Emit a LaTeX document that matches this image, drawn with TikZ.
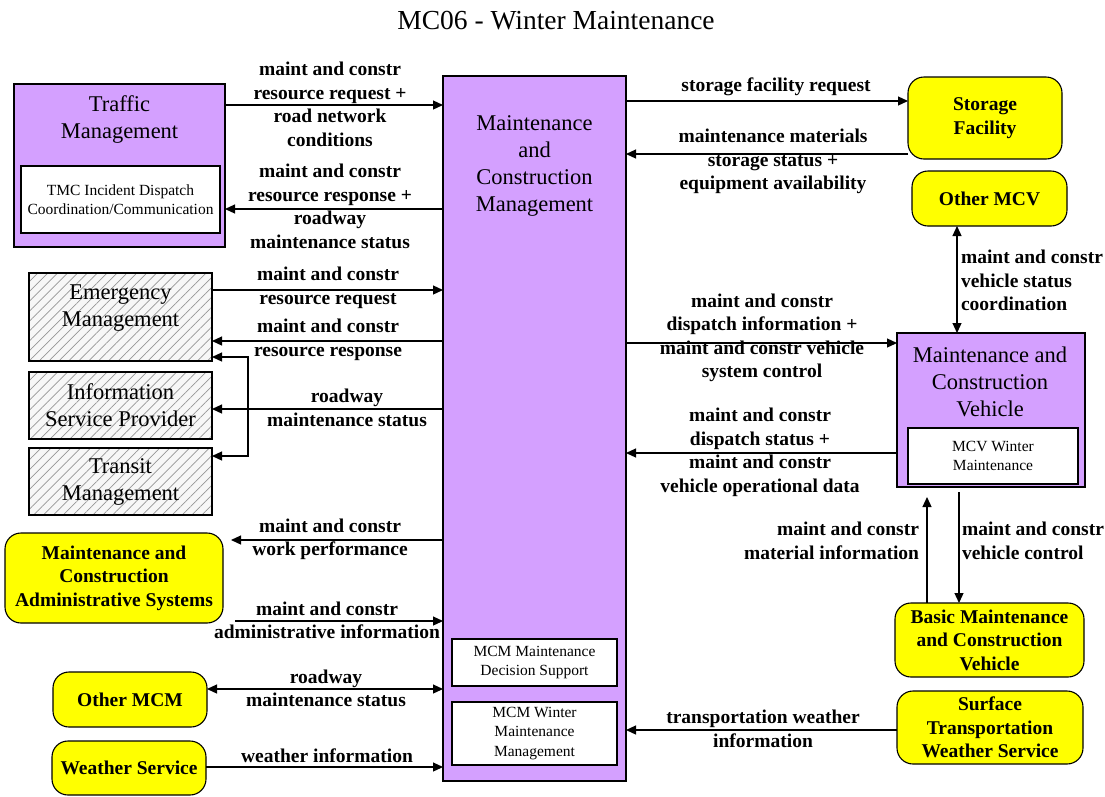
\documentclass[tikz,border=0pt]{standalone}
\usepackage{fontspec}
\setmainfont{Liberation Serif}
\usetikzlibrary{arrows.meta,patterns.meta}
\definecolor{mcpurple}{RGB}{212,160,255}
\definecolor{mcyellow}{RGB}{255,255,0}
\definecolor{hatchgray}{RGB}{150,150,150}
\newcommand\lblfont{\fontsize{19.5}{23.5}\selectfont\bfseries}
\newcommand\ttlfont{\fontsize{22.5}{27}\selectfont}
\newcommand\smlfont{\fontsize{15.5}{19.5}\selectfont}

\begin{document}
\begin{tikzpicture}[x=1pt,y=-1pt,
  every node/.style={inner sep=0pt, outer sep=0pt},
  pbox/.style={draw, line width=1.3pt, fill=mcpurple},
  wbox/.style={draw, line width=1.1pt, fill=white, align=center, font=\smlfont},
  hbox/.style={draw, line width=1.1pt, preaction={fill=gray!6},
    pattern={Lines[angle=45,distance=7pt,line width=0.7pt]}, pattern color=hatchgray,
    align=center, font=\ttlfont},
  ybox/.style={draw, line width=1.1pt, fill=mcyellow, rounded corners=16pt,
    align=center, font=\lblfont},
  ttl/.style={align=center, font=\ttlfont},
  lbl/.style={align=center, font=\lblfont},
  flow/.style={line width=1.2pt, -{Triangle[length=10pt,width=9pt]}},
  flow2/.style={line width=1.2pt, {Triangle[length=10pt,width=9pt]}-{Triangle[length=10pt,width=9pt]}}
]
\useasboundingbox (0,0) rectangle (1105,796);
\fill[white] (0,0) rectangle (1105,796);

% title
\node[font=\fontsize{27.5}{31}\selectfont] (title) at (556,21) {MC06 - Winter Maintenance};

% central subsystem
\node[pbox, minimum width=183pt, minimum height=705pt] (mcm) at (534.5,428.5) {};
\node[ttl] (mcmt) at (534.5,166) {Maintenance\\and\\Construction\\Management};
\node[wbox, minimum width=165pt, minimum height=47pt] (mds) at (534.5,662.5) {MCM Maintenance\\Decision Support};
\node[wbox, minimum width=165pt, minimum height=63pt] (mwm) at (534.5,733.5) {MCM Winter\\Maintenance\\Management};

% left side
\node[pbox, minimum width=211pt, minimum height=163pt] (tm) at (119.5,165.5) {};
\node[ttl] (tmt) at (119.5,120) {Traffic\\Management};
\node[wbox, minimum width=199pt, minimum height=67pt] (tmc) at (120.5,199.5) {TMC Incident Dispatch\\Coordination/Communication};

\node[hbox, minimum width=183pt, minimum height=88pt] (em) at (120.5,317) {};
\node[ttl] (emt) at (120.5,308.5) {Emergency\\Management};
\node[hbox, minimum width=183pt, minimum height=67pt] (isp) at (120.5,405.5) {Information\\Service Provider};
\node[hbox, minimum width=183pt, minimum height=67pt] (tr) at (120.5,481.5) {Transit\\Management};

\node[ybox, minimum width=218pt, minimum height=90pt] (mcas) at (114,578) {Maintenance and\\Construction\\Administrative Systems};
\node[ybox, minimum width=154pt, minimum height=55pt] (omcm) at (130,699.5) {Other MCM};
\node[ybox, minimum width=154pt, minimum height=54pt] (ws) at (129,768) {Weather Service};

% right side
\node[ybox, minimum width=154pt, minimum height=82pt] (sf) at (985,118) {Storage\\Facility};
\node[ybox, minimum width=155pt, minimum height=55pt] (omcv) at (989.5,198.5) {Other MCV};
\node[pbox, minimum width=188pt, minimum height=154pt] (mcv) at (991,410) {};
\node[ttl] (mcvt) at (990,382) {Maintenance and\\Construction\\Vehicle};
\node[wbox, minimum width=170pt, minimum height=56pt] (mcvw) at (993,456) {MCV Winter\\Maintenance};
\node[ybox, minimum width=189pt, minimum height=74pt] (bmcv) at (989.5,640) {Basic Maintenance\\and Construction\\Vehicle};
\node[ybox, minimum width=186pt, minimum height=73pt] (stws) at (990,727.5) {Surface\\Transportation\\Weather Service};

% flows on the left
\draw[flow] (tm.east |- 0,105) -- (mcm.west |- 0,105);
\node[lbl] (l1) at (330,104.5) {maint and constr\\resource request +\\road network\\conditions};
\draw[flow] (mcm.west |- 0,209) -- (tm.east |- 0,209);
\node[lbl] (l2) at (330,206.5) {maint and constr\\resource response +\\roadway\\maintenance status};

\draw[flow] (em.east |- 0,290) -- (mcm.west |- 0,290);
\node[lbl] (l3) at (328,288) {maint and constr\\resource request};
\draw[flow] (mcm.west |- 0,341) -- (em.east |- 0,341);
\node[lbl] (l4) at (328,340) {maint and constr\\resource response};

\coordinate (split) at (248,409);
\draw[flow] (mcm.west |- 0,409) -- (isp.east |- 0,409);
\draw[flow] (split) |- (em.east |- 0,357);
\draw[flow] (split) |- (tr.east |- 0,456);
\node[lbl] (l5) at (347,408) {roadway\\maintenance status};

\draw[flow, shorten >=8pt] (mcm.west |- 0,540) -- (mcas.east |- 0,540);
\node[lbl] (l6) at (330,539.5) {maint and constr\\work performance};
\draw[flow, shorten <=12pt] (mcas.east |- 0,621) -- (mcm.west |- 0,621);
\node[lbl] (l7) at (327,620.5) {maint and constr\\administrative information};

\draw[flow2] (omcm.east |- 0,689) -- (mcm.west |- 0,689);
\node[lbl] (l8) at (326,688.5) {roadway\\maintenance status};
\draw[flow] (ws.east |- 0,767) -- (mcm.west |- 0,767);
\node[lbl] (l9) at (327,756) {weather information};

% flows on the right
\draw[flow] (mcm.east |- 0,101) -- (sf.west |- 0,101);
\node[lbl] (r1) at (776,87) {storage facility request};
\draw[flow] (sf.west |- 0,154) -- (mcm.east |- 0,154);
\node[lbl] (r2) at (773,161.5) {maintenance materials\\storage status +\\equipment availability};

\draw[flow2] (957,0 |- omcv.south) -- (957,0 |- mcv.north);
\node[lbl, align=left, anchor=west] (v1) at (961,280.5) {maint and constr\\vehicle status\\coordination};

\draw[flow] (mcm.east |- 0,343) -- (mcv.west |- 0,343);
\node[lbl] (r3) at (762,338) {maint and constr\\dispatch information +\\maint and constr vehicle\\system control};
\draw[flow] (mcv.west |- 0,453) -- (mcm.east |- 0,453);
\node[lbl] (r4) at (760,452.5) {maint and constr\\dispatch status +\\maint and constr\\vehicle operational data};

\draw[flow, shorten >=10pt] (927,0 |- bmcv.north) -- (927,0 |- mcv.south);
\node[lbl, align=right, anchor=east] (v2) at (919,541) {maint and constr\\material information};
\draw[flow, shorten <=5pt] (959,0 |- mcv.south) -- (959,0 |- bmcv.north);
\node[lbl, align=left, anchor=west] (v3) at (962,541) {maint and constr\\vehicle control};

\draw[flow] (stws.west |- 0,730) -- (mcm.east |- 0,730);
\node[lbl] (r5) at (763,729) {transportation weather\\information};
\end{tikzpicture}
\end{document}
